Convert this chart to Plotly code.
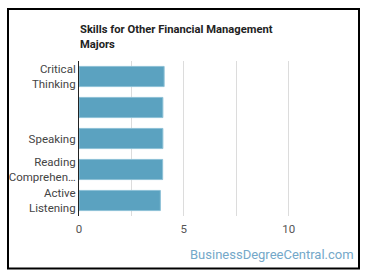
import plotly.graph_objects as go

skills = ["Critical<br>Thinking", " ", "Speaking", "Reading<br>Comprehen…", "Active<br>Listening"]
values = [4.06, 4.0, 4.0, 3.99, 3.88]
x_ticks = [0, 5, 10]

W, H = 370, 278
L, R, T, B = 79, 31, 61, 62
pw = W - L - R
ph = H - T - B

fig = go.Figure(go.Bar(
    x=values, y=skills, orientation="h",
    marker=dict(color="#5ba2c0", line=dict(color="#8cc0d6", width=1)),
    hoverinfo="skip",
))

def px_to_fx(px):
    return (px - L) / pw

def py_to_fy(py):
    return (H - B - py) / ph

fig.add_shape(type="rect", xref="paper", yref="paper",
              x0=px_to_fx(8), x1=px_to_fx(359), y0=py_to_fy(268.5), y1=py_to_fy(9),
              line=dict(color="#000", width=2), fillcolor="rgba(0,0,0,0)", layer="below")

fig.add_annotation(text="BusinessDegreeCentral.com", xref="paper", yref="paper",
                   x=px_to_fx(356), y=py_to_fy(254), xanchor="right", yanchor="middle",
                   showarrow=False, font=dict(family="Roboto", size=13, color="#74a8c9"))

fig.add_annotation(text="<b>Skills for Other Financial Management<br>Majors</b>",
                   xref="paper", yref="paper", x=px_to_fx(78), y=py_to_fy(21),
                   xanchor="left", yanchor="top", align="left", showarrow=False,
                   font=dict(family="Roboto", size=11.2, color="#222"))

fig.update_layout(
    width=W, height=H,
    margin=dict(l=L, r=R, t=T, b=B, autoexpand=False),
    paper_bgcolor="white", plot_bgcolor="white",
    bargap=0.35,
    showlegend=False,
    font=dict(family="Roboto", size=11.5, color="#444"),
    xaxis=dict(range=[0, 12.4], tickvals=x_ticks, showgrid=True, gridcolor="#dcdcdc",
               gridwidth=1, zeroline=False, showline=False, automargin=False,
               ticks="outside", ticklen=2, tickcolor="rgba(0,0,0,0)",
               minor=dict(dtick=2.5, tick0=0, showgrid=True, gridcolor="#dcdcdc", gridwidth=1),
               tickfont=dict(size=11.5, color="#555"), fixedrange=True),
    yaxis=dict(autorange="reversed", showline=True, linecolor="#222", linewidth=1,
               ticks="", showgrid=False, automargin=False,
               tickfont=dict(size=11.5, color="#444"), fixedrange=True),
)

fig.write_html("out.html")
